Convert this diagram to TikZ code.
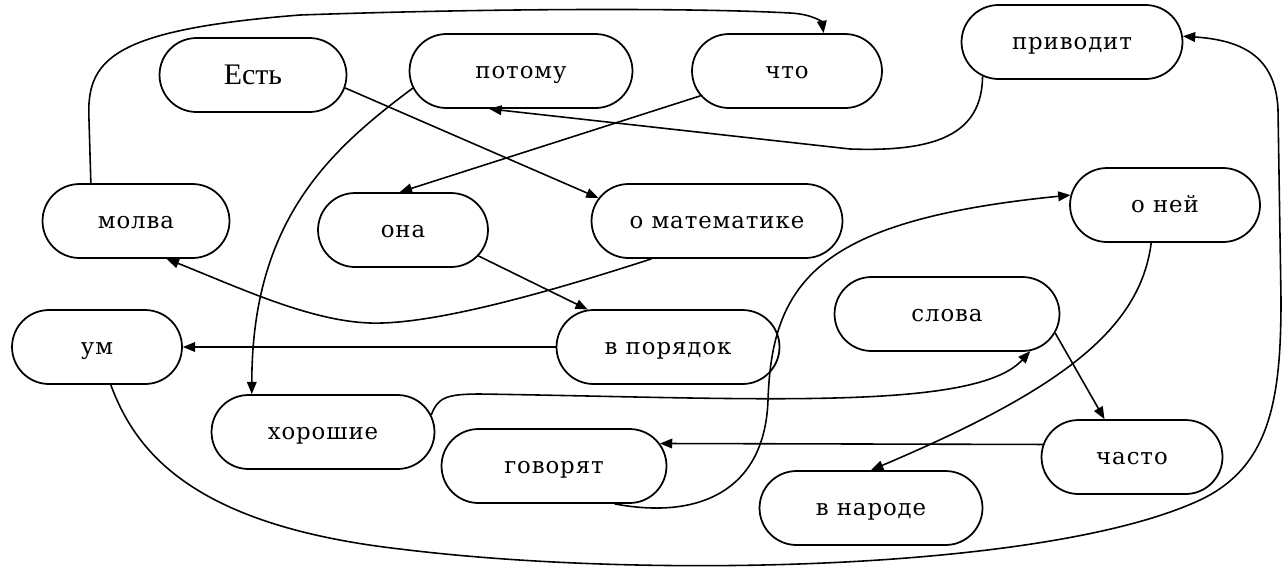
\documentclass[tikz,border=0pt]{standalone}
\usepackage{fontspec}
\setmainfont{Liberation Serif}
\newfontfamily\typefont[LetterSpace=4]{DejaVu Serif}
\usetikzlibrary{shapes.misc,arrows.meta}

\tikzset{
  word/.style={rounded rectangle, draw, line width=1pt, minimum height=1.48cm,
    inner sep=0pt, text height=8.5pt, text depth=0pt,
    font=\typefont\fontsize{13}{16}\selectfont},
  link/.style={line width=0.9pt, -{Triangle[length=7pt,width=5.5pt]}},
}

\begin{document}
\begin{tikzpicture}[x=0.02cm,y=-0.02cm]
\useasboundingbox (0,0) rectangle (1287,569);

% words of the sentence
\node[word, minimum width=3.74cm, text height=10.6pt, font=\fontsize{17}{20}\selectfont] (est) at (253,75) {Есть};
\node[word, minimum width=4.46cm] (pot)  at (521,71)  {потому};
\node[word, minimum width=3.80cm] (cto)  at (787,71)  {что};
\node[word, minimum width=4.42cm] (priv) at (1072,42) {приводит};
\node[word, minimum width=3.80cm] (oney) at (1165,205) {о ней};
\node[word, minimum width=3.74cm] (mol)  at (136,221) {молва};
\node[word, minimum width=3.40cm] (um)   at (97,347)  {ум};
\node[word, minimum width=3.40cm] (ona)  at (403,230) {она};
\node[word, minimum width=5.02cm] (mat)  at (717,221) {о математике};
\node[word, minimum width=4.46cm] (vp)   at (668,347) {в порядок};
\node[word, minimum width=4.46cm] (hor)  at (323,432) {хорошие};
\node[word, minimum width=4.50cm] (gov)  at (554,466) {говорят};
\node[word, minimum width=4.50cm] (slo)  at (947,314) {слова};
\node[word, minimum width=3.62cm] (cas)  at (1132,457) {часто};
\node[word, minimum width=4.46cm] (nar)  at (871,508) {в народе};

% links between the words
\draw[link] (est.-8) -- (mat.169);
\draw[link] (pot.189) .. controls (330,150) and (252,220) .. (hor.152);
\draw[link] (cto.196) -- (ona.95);
\draw[link] (priv.201) .. controls (982,135) and (935,152) .. (850,149) -- (pot.230);
\draw[link] (mol.140) -- (89,120) .. controls (86,60) and (110,30) .. (300,15)
  .. controls (500,8) and (700,8) .. (790,13) .. controls (812,14) and (822,22) .. (cto.46);
\draw[link] (mat.210) .. controls (540,295) and (430,325) .. (370,323)
  .. controls (310,321) and (240,288) .. (mol.-51);
\draw[link] (ona.-19) -- (vp.155);
\draw[link] (vp.west) -- (um.east);
\draw[link] (hor.9) .. controls (438,398) and (445,394) .. (480,394)
  .. controls (750,398) and (975,412) .. (slo.-24);
\draw[link] (um.-70) .. controls (135,450) and (190,525) .. (400,549)
  .. controls (650,580) and (1050,570) .. (1200,500)
  .. controls (1270,467) and (1281,400) .. (1281,300) -- (1278,110)
  .. controls (1276,55) and (1240,40) .. (priv.3);
\draw[link] (gov.-32) .. controls (700,520) and (765,490) .. (768,400)
  .. controls (772,280) and (820,220) .. (oney.174);
\draw[link] (oney.250) .. controls (1140,330) and (1060,390) .. (nar.north);
\draw[link] (slo.-10) -- (cas.126);
\draw[link] (cas.172) -- (gov.12);
\end{tikzpicture}
\end{document}
